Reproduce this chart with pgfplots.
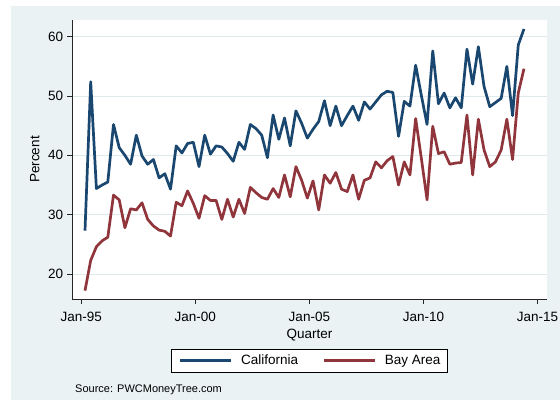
\documentclass[border=0pt]{standalone}
\usepackage{fontspec}
\setmainfont{Liberation Sans}
\usepackage{pgfplots}
\usepackage{pgfplotstable}
\pgfplotsset{compat=1.18}

\definecolor{bgc}{RGB}{234,242,243}
\definecolor{gridc}{RGB}{222,233,236}
\definecolor{stnavy}{RGB}{26,71,111}
\definecolor{stmaroon}{RGB}{144,53,59}

% quarter, California, Bay Area (percent)
\pgfplotstableread{
q       cal   bay
1995.16 27.3 17.2
1995.41 52.4 22.3
1995.66 34.4 24.6
1995.91 35.0 25.6
1996.16 35.5 26.2
1996.41 45.2 33.3
1996.66 41.3 32.5
1996.91 40.0 27.8
1997.16 38.5 31.0
1997.41 43.4 30.8
1997.66 39.9 32.0
1997.91 38.5 29.2
1998.16 39.3 28.1
1998.41 36.2 27.4
1998.66 36.9 27.2
1998.91 34.3 26.4
1999.16 41.6 32.1
1999.41 40.4 31.5
1999.66 42.0 34.0
1999.91 42.2 31.9
2000.16 38.1 29.4
2000.41 43.4 33.2
2000.66 40.2 32.4
2000.91 41.6 32.4
2001.16 41.4 29.2
2001.41 40.3 32.6
2001.66 39.0 29.6
2001.91 42.2 32.6
2002.16 41.0 30.2
2002.41 45.2 34.6
2002.66 44.5 33.7
2002.91 43.4 32.9
2003.16 39.6 32.6
2003.41 46.8 34.4
2003.66 42.7 32.9
2003.91 46.3 36.7
2004.16 41.6 33.0
2004.41 47.5 38.1
2004.66 45.4 35.8
2004.91 42.9 32.8
2005.16 44.4 35.7
2005.41 45.7 30.8
2005.66 49.2 36.7
2005.91 45.0 35.3
2006.16 48.3 37.1
2006.41 45.0 34.3
2006.66 46.7 33.9
2006.91 48.3 36.7
2007.16 45.9 32.6
2007.41 49.0 35.8
2007.66 47.8 36.2
2007.91 49.0 38.9
2008.16 50.2 37.9
2008.41 50.8 39.1
2008.66 50.6 39.8
2008.91 43.2 35.0
2009.16 49.1 38.9
2009.41 48.3 36.7
2009.66 55.2 46.2
2009.91 50.1 39.5
2010.16 45.2 32.5
2010.41 57.6 44.9
2010.66 48.7 40.3
2010.91 50.5 40.6
2011.16 48.0 38.5
2011.41 49.7 38.7
2011.66 48.0 38.8
2011.91 57.9 46.8
2012.16 52.0 36.7
2012.41 58.3 46.1
2012.66 51.6 40.9
2012.91 48.2 38.1
2013.16 48.9 38.9
2013.41 49.6 40.9
2013.66 55.0 46.1
2013.91 46.7 39.3
2014.16 58.6 50.5
2014.41 61.3 54.6
}\vcdata

\begin{document}
\begin{tikzpicture}
\useasboundingbox (0pt,0pt) rectangle (560pt,400pt);
\fill[bgc] (11pt,0pt) rectangle (560pt,394pt);
\begin{axis}[
    at={(72pt,101pt)}, anchor=south west,
    scale only axis, width=475pt, height=279pt,
    xmin=1994.59, xmax=2015.42,
    ymin=15.79, ymax=62.81,
    axis background/.style={fill=white},
    axis x line*=bottom, axis y line*=left,
    axis line style={line width=0.8pt, black!85, -},
    xtick={1995,2000,2005,2010,2015},
    xticklabels={Jan-95,Jan-00,Jan-05,Jan-10,Jan-15},
    ytick={20,30,40,50,60},
    tick align=outside, major tick length=5pt,
    tick style={line width=0.8pt, black!85},
    ymajorgrids, grid style={gridc, line width=1pt},
    /pgf/number format/assume math mode=true,
    ticklabel style={font=\fontsize{13.5}{16}\selectfont},
    xticklabel style={inner sep=0pt, yshift=-8pt},
    yticklabel style={inner sep=0pt, xshift=-3.7pt},
    xlabel={Quarter}, ylabel={Percent},
    label style={font=\fontsize{13.5}{16}\selectfont, inner sep=0pt},
    xlabel style={at={(axis description cs:0.5,-0.1300)}, anchor=center},
    ylabel style={at={(axis description cs:-0.0785,0.5)}, anchor=center},
    legend columns=2,
    legend cell align=left,
    legend image code/.code={\draw[#1] (0pt,0pt) -- (51pt,0pt);},
    legend style={at={(0.5,-0.1778)}, anchor=north,
        draw=black, line width=0.8pt, fill=white,
        font=\fontsize{13.5}{16}\selectfont,
        inner xsep=7pt, inner ysep=6pt,
        nodes={inner sep=0pt},
        /tikz/every odd column/.append style={column sep=9pt},
        /tikz/every even column/.append style={column sep=24pt}},
]
\addplot[stnavy, line width=2.7pt, line join=round] table[x=q, y=cal] {\vcdata};
\addlegendentry{California}
\addplot[stmaroon, line width=2.7pt, line join=round] table[x=q, y=bay] {\vcdata};
\addlegendentry{Bay Area}
\end{axis}
\node[anchor=base west, inner sep=0pt, font=\fontsize{11}{13}\selectfont]
    at (75pt,7.5pt) {Source: PWCMoneyTree.com};
\end{tikzpicture}
\end{document}
